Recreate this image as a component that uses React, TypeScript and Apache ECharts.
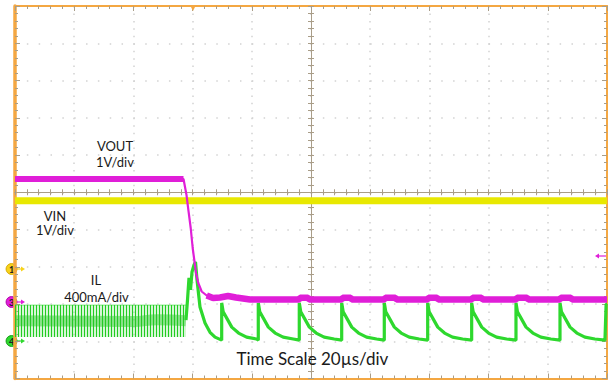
import React, { useEffect, useRef } from "react";
import * as echarts from "echarts";

// Time axis: µs relative to the trigger (20 µs/div), vertical axis: divisions
const TIME_MIN = -60;
const TIME_MAX = 140;
const TIME_STEP = 20;
const DIV_MIN = -5;
const DIV_MAX = 5;

// VIN (channel 1), divisions
const VIN: number[][] = [
  [-60, -0.23],
  [140, -0.23],
];

// VOUT (channel 3), divisions
const VOUT: number[][] = [
  [-60, 0.354], [-3.07, 0.354], [-2.06, -0.075], [-1.38, -0.504], [-0.64, -0.96],
  [0.03, -1.497], [0.57, -1.819], [1.15, -2.168], [1.92, -2.436], [3.07, -2.664],
  [4.76, -2.772], [6.89, -2.839], [9.26, -2.825], [11.96, -2.785], [14.66, -2.825],
  [19.39, -2.879], [36.0, -2.879], [36.3, -2.83], [39.0, -2.83], [39.4, -2.879],
  [50.4, -2.879], [50.7, -2.83], [53.4, -2.83], [53.8, -2.879],
  [64.8, -2.879], [65.1, -2.83], [68.5, -2.83], [68.9, -2.879],
  [79.4, -2.879], [79.7, -2.83], [82.6, -2.83], [83.0, -2.879],
  [94.3, -2.879], [94.6, -2.83], [97.6, -2.83], [98.0, -2.879],
  [109.3, -2.879], [109.6, -2.83], [113.0, -2.83], [113.4, -2.879],
  [124.1, -2.879], [124.4, -2.83], [127.8, -2.83], [128.2, -2.879],
  [140, -2.879],
];

// IL (channel 4) before the transient: switching-ripple envelope, divisions
const IL_RIPPLE_TOP: number[][] = [
  [-60, -3.03],
  [-2.23, -3.03],
];
const IL_RIPPLE_BOTTOM = -3.885;
const IL_RIPPLE_CORE: number[][] = [
  [-60, -3.45],
  [-20, -3.47],
  [-12, -3.42],
  [-2.23, -3.45],
];

// IL after the transient, divisions
const IL: number[][] = [
  [-2.23, -3.43], [-1.72, -2.89], [-1.22, -2.3], [-0.71, -2.62], [-0.2, -2.14],
  [0.47, -1.95], [0.98, -1.87], [1.49, -2.35], [2.5, -3.08], [4.19, -3.51],
  [5.88, -3.76], [7.57, -3.89], [9.26, -3.95],
  [9.83, -3.97], [9.83, -2.97], [10.33, -3.21], [11.53, -3.38], [13.23, -3.62], [15.53, -3.78], [18.23, -3.89], [21.63, -3.94],
  [22.19, -3.97], [22.19, -2.97], [22.69, -3.21], [23.89, -3.38], [25.59, -3.62], [27.89, -3.78], [30.59, -3.89], [33.99, -3.94],
  [36.04, -3.97], [36.04, -2.97], [36.54, -3.21], [37.74, -3.38], [39.44, -3.62], [41.74, -3.78], [44.44, -3.89], [47.84, -3.94],
  [50.37, -3.97], [50.37, -2.97], [50.87, -3.21], [52.07, -3.38], [53.77, -3.62], [56.07, -3.78], [58.77, -3.89], [62.17, -3.94],
  [64.76, -3.97], [64.76, -2.97], [65.26, -3.21], [66.46, -3.38], [68.16, -3.62], [70.46, -3.78], [73.16, -3.89], [76.56, -3.94],
  [79.42, -3.97], [79.42, -2.97], [79.92, -3.21], [81.12, -3.38], [82.82, -3.62], [85.12, -3.78], [87.82, -3.89], [91.22, -3.94],
  [94.28, -3.97], [94.28, -2.97], [94.78, -3.21], [95.98, -3.38], [97.68, -3.62], [99.98, -3.78], [102.68, -3.89], [106.08, -3.94],
  [109.25, -3.97], [109.25, -2.97], [109.75, -3.21], [110.95, -3.38], [112.65, -3.62], [114.95, -3.78], [117.65, -3.89], [121.05, -3.94],
  [124.12, -3.97], [124.12, -2.97], [124.62, -3.21], [125.82, -3.38], [127.52, -3.62], [129.82, -3.78], [132.52, -3.89], [135.92, -3.94],
  [139.31, -3.97], [139.7, -3.0], [140, -3.0],
];

const LABELS = {
  vout: ["VOUT", "1V/div"],
  vin: ["VIN", "1V/div"],
  il: ["IL", "400mA/div"],
  time: "Time Scale 20µs/div",
};

const FRAME = "#f4a742";
const TICK = "#a99d88";
const DOT = "#d2d2d2";
const YELLOW = "#e8e800";
const MAGENTA = "#e01ed8";
const GREEN = "#2ed82e";
const FONT = "Lato, 'Open Sans', sans-serif";

const GRID = { left: 15, top: 6, width: 592, height: 372.5 };

const RIPPLE_DECAL = {
  symbol: "rect",
  symbolSize: 1,
  color: "#22cc22",
  dashArrayX: [1, 2],
  dashArrayY: [2, 0],
};

export default function App() {
  const ref = useRef<HTMLDivElement>(null);

  useEffect(() => {
    if (!ref.current) return;
    const chart = echarts.init(ref.current, undefined, { renderer: "svg" });

    const edgeX = (position: string, split: boolean) => ({
      gridIndex: 0,
      type: "value",
      min: TIME_MIN,
      max: TIME_MAX,
      interval: TIME_STEP,
      position,
      axisLine: { onZero: false, lineStyle: { color: FRAME, width: 2 } },
      axisTick: { inside: true, length: 5, lineStyle: { color: TICK } },
      minorTick: { show: true, splitNumber: 5, length: 3, lineStyle: { color: TICK } },
      axisLabel: { show: false },
      splitLine: { show: split, lineStyle: { color: DOT, width: 1.5, type: [1.5, 5.95] } },
    });
    const edgeY = (position: string, split: boolean, width: number) => ({
      gridIndex: 0,
      type: "value",
      min: DIV_MIN,
      max: DIV_MAX,
      interval: 1,
      position,
      axisLine: { onZero: false, lineStyle: { color: FRAME, width } },
      axisTick: { inside: true, length: 5, lineStyle: { color: TICK } },
      minorTick: { show: true, splitNumber: 5, length: 3, lineStyle: { color: TICK } },
      axisLabel: { show: false },
      splitLine: { show: split, lineStyle: { color: DOT, width: 1.5, type: [1.5, 10.34] } },
    });
    const centerAxis = (gridIndex: number, position: string) => ({
      gridIndex,
      type: "value",
      min: DIV_MIN,
      max: DIV_MAX,
      interval: 1,
      position,
      axisLine: { onZero: true, lineStyle: { color: TICK, width: 1 } },
      axisTick: { inside: false, length: 3, lineStyle: { color: TICK } },
      minorTick: { show: true, splitNumber: 5, length: 3, lineStyle: { color: TICK } },
      axisLabel: { show: false },
      splitLine: { show: false },
    });

    const text = (s: string, x: number, y: number, size = 13, align = "center") => ({
      type: "text",
      x,
      y,
      z: 100,
      style: {
        text: s,
        fill: "#1a1a1a",
        font: `${size}px ${FONT}`,
        align,
        verticalAlign: "middle",
      },
    });
    const marker = (num: string, y: number, fill: string, stroke: string) => ({
      type: "group",
      z: 100,
      children: [
        { type: "line", shape: { x1: 16, y1: y, x2: 22, y2: y }, style: { stroke: fill, lineWidth: 1.2 } },
        { type: "polygon", shape: { points: [[21, y - 2.5], [25, y], [21, y + 2.5]] }, style: { fill } },
        { type: "circle", shape: { cx: 11.5, cy: y, r: 5.4 }, style: { fill, stroke, lineWidth: 1 } },
        {
          type: "text",
          x: 11.5,
          y: y + 0.5,
          style: { text: num, fill: "#222", font: `bold 9px ${FONT}`, align: "center", verticalAlign: "middle" },
        },
      ],
    });

    chart.setOption({
      animation: false,
      backgroundColor: "#ffffff",
      grid: [{ ...GRID }, { ...GRID }, { ...GRID }],
      xAxis: [edgeX("bottom", true), edgeX("top", false), centerAxis(1, "bottom"), centerAxis(2, "top")],
      yAxis: [edgeY("left", true, 3.5), edgeY("right", false, 2), centerAxis(1, "left"), centerAxis(2, "right")],
      series: [
        {
          name: "VIN",
          type: "line",
          xAxisIndex: 0,
          yAxisIndex: 0,
          data: VIN,
          symbol: "none",
          z: 3,
          lineStyle: { color: YELLOW, width: 7 },
        },
        {
          name: "IL ripple",
          type: "line",
          xAxisIndex: 0,
          yAxisIndex: 0,
          data: IL_RIPPLE_TOP,
          symbol: "none",
          z: 4,
          lineStyle: { color: GREEN, width: 0.6, decal: RIPPLE_DECAL },
          itemStyle: { color: GREEN, decal: RIPPLE_DECAL },
          areaStyle: { origin: IL_RIPPLE_BOTTOM, color: "rgba(120,225,120,0.3)", opacity: 1 },
        },
        {
          name: "IL ripple core",
          type: "line",
          xAxisIndex: 0,
          yAxisIndex: 0,
          data: IL_RIPPLE_CORE,
          symbol: "none",
          smooth: true,
          z: 4,
          lineStyle: { color: "rgba(40,200,40,0.45)", width: 11 },
        },
        {
          name: "IL",
          type: "line",
          xAxisIndex: 0,
          yAxisIndex: 0,
          data: IL,
          symbol: "none",
          z: 5,
          lineStyle: { color: GREEN, width: 3.2 },
        },
        {
          name: "VOUT",
          type: "line",
          xAxisIndex: 0,
          yAxisIndex: 0,
          data: VOUT,
          symbol: "none",
          z: 6,
          lineStyle: { color: MAGENTA, width: 2.2 },
        },
        {
          name: "VOUT noise before",
          type: "line",
          xAxisIndex: 0,
          yAxisIndex: 0,
          data: VOUT.slice(0, 2),
          symbol: "none",
          z: 6,
          lineStyle: { color: MAGENTA, width: 6 },
        },
        {
          name: "VOUT noise after",
          type: "line",
          xAxisIndex: 0,
          yAxisIndex: 0,
          data: VOUT.slice(10),
          symbol: "none",
          z: 6,
          lineStyle: { color: MAGENTA, width: 6.5 },
        },
      ],
      graphic: [
        text(LABELS.vout[0], 115, 146),
        text(LABELS.vout[1], 115, 161.5),
        text(LABELS.vin[0], 55, 215.5),
        text(LABELS.vin[1], 55, 230),
        text(LABELS.il[0], 96, 280),
        text(LABELS.il[1], 96.5, 296.5),
        text(LABELS.time, 236.5, 358.5, 17, "left"),
        marker("1", 269, "#f7d31a", "#d6a900"),
        marker("3", 302, MAGENTA, "#b000a8"),
        marker("4", 341, GREEN, "#119911"),
        {
          type: "group",
          z: 100,
          children: [
            { type: "line", shape: { x1: 598, y1: 256, x2: 606, y2: 256 }, style: { stroke: MAGENTA, lineWidth: 1.2 } },
            { type: "polygon", shape: { points: [[599, 253.5], [595, 256], [599, 258.5]] }, style: { fill: MAGENTA } },
          ],
        },
        {
          type: "polygon",
          z: 100,
          shape: { points: [[190, 5], [196, 5], [193, 11]] },
          style: { fill: FRAME },
        },
      ],
    });

    return () => chart.dispose();
  }, []);

  return (
    <div
      ref={ref}
      style={{ position: "absolute", left: 0, top: 0, width: 611, height: 383, background: "#fff" }}
    />
  );
}
